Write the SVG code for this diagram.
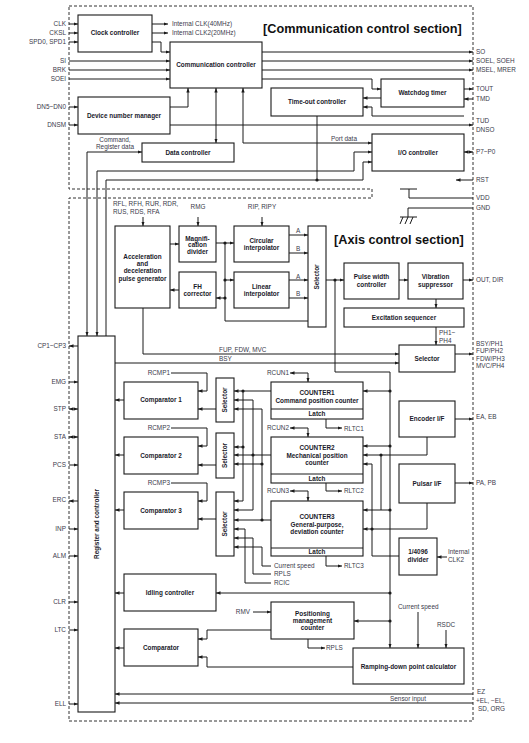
<svg xmlns="http://www.w3.org/2000/svg" width="529" height="743" viewBox="0 0 529 743">
<style>
.ln{fill:none;stroke:#1a1a1a;stroke-width:1}
.ar{marker-end:url(#ah)}
.ab{marker-start:url(#ah);marker-end:url(#ah)}
.as{marker-start:url(#ah)}
.bx{fill:#fff;stroke:#1a1a1a;stroke-width:1.1}
.t{font-family:"Liberation Sans",Arial,sans-serif;font-size:6.4px;fill:#3a3a4a}
.b{font-weight:bold;fill:#1a1a2a;text-anchor:middle}
.e{text-anchor:end}
.m{text-anchor:middle}
.ttl{font-family:"Liberation Sans",Arial,sans-serif;font-size:12.7px;font-weight:bold;fill:#111}
.dot{fill:#1a1a1a}
.dash{fill:none;stroke:#333;stroke-width:1;stroke-dasharray:3,2}
</style>
<defs>
<marker id="ah" viewBox="0 0 8 6" refX="8" refY="3" markerWidth="4.5" markerHeight="3.4" markerUnits="userSpaceOnUse" orient="auto-start-reverse"><path d="M0,0 L8,3 L0,6 Z" fill="#1a1a1a"/></marker>
</defs>
<rect width="529" height="743" fill="#fff"/>
<g id="boundary">
<path class="dash" d="M69,6 H473 V721 H69 V198 H372 V189 H69 Z"/>
</g>
<g id="titles">
<text class="ttl" x="263" y="33">[Communication control section]</text>
<text class="ttl" x="334" y="244">[Axis control section]</text>
</g>
<g id="power">
<path class="ln" d="M400,189 H417 M409,189 V198 H473"/>
<path class="ln" d="M473,208 H408 V217 M400,217 H417 M403,217 L400,224 M408,217 L405,224 M413,217 L410,224"/>
</g>
<g id="connectors">
<path class="ln ar" d="M69,24 H78"/>
<path class="ln ar" d="M69,33 H78"/>
<path class="ln ar" d="M69,42 H78"/>
<path class="ln ar" d="M152,24 H168"/>
<path class="ln ar" d="M152,33 H168"/>
<path class="ln ar" d="M152,42 H161 V52 H170"/>
<path class="ln ar" d="M69,61 H170"/>
<path class="ln ar" d="M69,70 H170"/>
<path class="ln ar" d="M69,79 H170"/>
<path class="ln ar" d="M262,52 H473"/>
<path class="ln ar" d="M262,61 H473"/>
<path class="ln ar" d="M262,70 H473"/>
<path class="ln ar" d="M262,79 H372 V89 H381"/>
<path class="ln ar" d="M464,89 H473"/>
<path class="ln ar" d="M473,99 H464"/>
<path class="ln ar" d="M381,98 H363"/>
<path class="ln ar" d="M464,116 H372 V107 H363"/>
<path class="ln ar" d="M69,107 H78"/>
<path class="ln ar" d="M69,125 H78"/>
<path class="ln ar" d="M170,107 H188 V88"/>
<path class="ln ar" d="M170,125 H473"/>
<path class="ln ab" d="M216,88 V143"/>
<path class="ln ab" d="M243,88 V143 H372"/>
<path class="ln ab" d="M87,336 V152 H142"/>
<path class="ln ab" d="M97,336 V171 H354 V152 H372"/>
<path class="ln ar" d="M106,336 V180 H363 V162 H372"/>
<path class="ln" d="M317,116 V180"/>
<circle class="dot" cx="317" cy="180" r="1.6"/>
<path class="ln ab" d="M464,152 H473"/>
<path class="ln ar" d="M473,180 H456"/>
<path class="ln ar" d="M143,217 V226"/>
<path class="ln ar" d="M198,217 V226"/>
<path class="ln ar" d="M262,217 V226"/>
<path class="ln ar" d="M170,244 H179"/>
<path class="ln ar" d="M179,290 H170"/>
<path class="ln ar" d="M216,243 H234"/>
<path class="ln" d="M225,243 V321 H308"/>
<path class="ln ar" d="M225,280 H234"/>
<path class="ln ar" d="M225,298 H216"/>
<circle class="dot" cx="225" cy="243" r="1.6"/>
<circle class="dot" cx="225" cy="280" r="1.6"/>
<circle class="dot" cx="225" cy="298" r="1.6"/>
<path class="ln ar" d="M289,235 H308"/>
<path class="ln ar" d="M289,253 H308"/>
<path class="ln ar" d="M289,280 H308"/>
<path class="ln ar" d="M289,298 H308"/>
<path class="ln ar" d="M326,280 H344"/>
<circle class="dot" cx="335" cy="280" r="1.6"/>
<path class="ln ar" d="M335,280 V372 H390 V648"/>
<path class="ln ar" d="M399,280 H408"/>
<path class="ln ar" d="M463,280 H473"/>
<path class="ln ar" d="M436,299 V308"/>
<path class="ln ar" d="M436,327 V345"/>
<path class="ln ar" d="M143,308 V354 H399"/>
<path class="ln ar" d="M115,363 H399"/>
<path class="ln ar" d="M455,354 H473"/>
<path class="ln ar" d="M78,346 H69"/>
<path class="ln ar" d="M69,382 H78"/>
<path class="ln ab" d="M69,409 H78"/>
<path class="ln ab" d="M69,437 H78"/>
<path class="ln ar" d="M69,465 H78"/>
<path class="ln ar" d="M78,501 H69"/>
<path class="ln ar" d="M69,529 H78"/>
<path class="ln ar" d="M69,556 H78"/>
<path class="ln ar" d="M69,602 H78"/>
<path class="ln ar" d="M69,630 H78"/>
<path class="ln ar" d="M69,704 H78"/>
<path class="ln ar" d="M124,400 H115"/>
<path class="ln ar" d="M124,455 H115"/>
<path class="ln ar" d="M124,510 H115"/>
<path class="ln ar" d="M171,373 H207 V391 H198"/>
<path class="ln ar" d="M171,428 H207 V446 H198"/>
<path class="ln ar" d="M171,483 H207 V501 H198"/>
<path class="ln ar" d="M216,409 H198"/>
<path class="ln ar" d="M216,465 H198"/>
<path class="ln ar" d="M216,519 H198"/>
<path class="ln ab" d="M290,373 H308 V382"/>
<path class="ln ab" d="M290,428 H308 V437"/>
<path class="ln ab" d="M290,491 H308 V501"/>
<path class="ln ar" d="M271,391 H234"/>
<path class="ln ar" d="M243,391 V501 H234"/>
<path class="ln ar" d="M243,447 H234"/>
<circle class="dot" cx="243" cy="391" r="1.6"/>
<circle class="dot" cx="243" cy="447" r="1.6"/>
<path class="ln ar" d="M271,455 H234"/>
<path class="ln ab" d="M234,400 H253 V510 H234"/>
<circle class="dot" cx="253" cy="455" r="1.6"/>
<path class="ln ar" d="M271,520 H234"/>
<path class="ln as" d="M234,409 H262 V520"/>
<path class="ln ar" d="M262,464 H234"/>
<circle class="dot" cx="262" cy="464" r="1.6"/>
<circle class="dot" cx="262" cy="520" r="1.6"/>
<path class="ln ar" d="M271,583 H245 V529 H234"/>
<path class="ln ar" d="M271,574 H253 V538 H234"/>
<path class="ln ar" d="M271,566 H262 V547 H234"/>
<path class="ln ar" d="M326,419 V428 H342"/>
<path class="ln ar" d="M326,483 V491 H342"/>
<path class="ln ar" d="M326,556 V566 H342"/>
<path class="ln ar" d="M455,419 H473"/>
<path class="ln ar" d="M427,437 V455 H363"/>
<path class="ln" d="M381,455 V510"/>
<circle class="dot" cx="381" cy="455" r="1.6"/>
<path class="ln ar" d="M390,391 H363"/>
<path class="ln ar" d="M390,446 H363"/>
<path class="ln ar" d="M390,510 H363"/>
<circle class="dot" cx="390" cy="391" r="1.6"/>
<circle class="dot" cx="390" cy="446" r="1.6"/>
<circle class="dot" cx="390" cy="510" r="1.6"/>
<path class="ln ar" d="M399,556 H372 V464 H363"/>
<path class="ln ar" d="M455,483 H473"/>
<path class="ln ar" d="M427,503 V529 H363"/>
<circle class="dot" cx="372" cy="529" r="1.6"/>
<path class="ln ar" d="M447,557 H437"/>
<path class="ln ar" d="M390,593 H216"/>
<circle class="dot" cx="390" cy="593" r="1.6"/>
<path class="ln ar" d="M124,593 H115"/>
<path class="ln ar" d="M390,621 H354"/>
<circle class="dot" cx="390" cy="621" r="1.6"/>
<path class="ln ar" d="M253,612 H271"/>
<path class="ln ar" d="M308,639 V648 H325"/>
<path class="ln ar" d="M271,630 H207 V639 H198"/>
<path class="ln ar" d="M124,648 H115"/>
<path class="ln ar" d="M353,667 H207 V657 H198"/>
<path class="ln ar" d="M418,612 V648"/>
<path class="ln ar" d="M446,630 V648"/>
<path class="ln ar" d="M473,694 H115"/>
<path class="ln ar" d="M473,703 H115"/>
</g>
<g id="clock-controller"><rect class="bx" x="78" y="15" width="74" height="37"/><text class="t b" x="115" y="35.2">Clock controller</text></g>
<g id="communication-controller"><rect class="bx" x="170" y="42" width="92" height="46"/><text class="t b" x="216" y="67.2">Communication controller</text></g>
<g id="device-number-manager"><rect class="bx" x="78" y="97" width="92" height="37"/><text class="t b" x="124" y="118.2">Device number manager</text></g>
<g id="data-controller"><rect class="bx" x="142" y="143" width="92" height="19"/><text class="t b" x="188" y="154.7">Data controller</text></g>
<g id="time-out-controller"><rect class="bx" x="271" y="88" width="92" height="28"/><text class="t b" x="317" y="104.2">Time-out controller</text></g>
<g id="watchdog-timer"><rect class="bx" x="381" y="79" width="83" height="28"/><text class="t b" x="422.5" y="95.2">Watchdog timer</text></g>
<g id="io-controller"><rect class="bx" x="372" y="134" width="92" height="37"/><text class="t b" x="418" y="154.7">I/O controller</text></g>
<g id="accel-decel-generator"><rect class="bx" x="115" y="226" width="55" height="82"/>
<text class="t b" x="142.5" y="259.2">Acceleration</text><text class="t b" x="142.5" y="266.2">and</text><text class="t b" x="142.5" y="273.2">deceleration</text><text class="t b" x="142.5" y="281.2">pulse generator</text></g>
<g id="magnification-divider"><rect class="bx" x="179" y="226" width="37" height="36"/>
<text class="t b" x="197.5" y="240.5">Magnifi-</text><text class="t b" x="197.5" y="247">cation</text><text class="t b" x="197.5" y="253.5">divider</text></g>
<g id="fh-corrector"><rect class="bx" x="179" y="272" width="37" height="36"/>
<text class="t b" x="197.5" y="289.2">FH</text><text class="t b" x="197.5" y="296.2">corrector</text></g>
<g id="circular-interpolator"><rect class="bx" x="234" y="226" width="55" height="36"/>
<text class="t b" x="261.5" y="243.2">Circular</text><text class="t b" x="261.5" y="250.2">interpolator</text></g>
<g id="linear-interpolator"><rect class="bx" x="234" y="272" width="55" height="36"/>
<text class="t b" x="261.5" y="289.2">Linear</text><text class="t b" x="261.5" y="296.2">interpolator</text></g>
<g id="axis-selector"><rect class="bx" x="308" y="226" width="18" height="101"/>
<text class="t b" transform="translate(317,277) rotate(-90)" x="0" y="2.2">Selector</text></g>
<g id="pulse-width-controller"><rect class="bx" x="344" y="263" width="55" height="36"/>
<text class="t b" x="371.5" y="279.2">Pulse width</text><text class="t b" x="371.5" y="287.2">controller</text></g>
<g id="vibration-suppressor"><rect class="bx" x="408" y="263" width="55" height="36"/>
<text class="t b" x="435.5" y="279.2">Vibration</text><text class="t b" x="435.5" y="287.2">suppressor</text></g>
<g id="excitation-sequencer"><rect class="bx" x="344" y="308" width="120" height="19"/><text class="t b" x="404" y="320.2">Excitation sequencer</text></g>
<g id="output-selector"><rect class="bx" x="399" y="345" width="56" height="27"/><text class="t b" x="427" y="360.7">Selector</text></g>
<g id="register-and-controller"><rect class="bx" x="78" y="336" width="37" height="376"/>
<text class="t b" transform="translate(97,524) rotate(-90)" x="0" y="2.2">Register and controller</text></g>
<g id="comparator-1"><rect class="bx" x="124" y="382" width="74" height="37"/><text class="t b" x="161" y="402.2">Comparator 1</text></g>
<g id="comparator-2"><rect class="bx" x="124" y="437" width="74" height="37"/><text class="t b" x="161" y="457.7">Comparator 2</text></g>
<g id="comparator-3"><rect class="bx" x="124" y="492" width="74" height="37"/><text class="t b" x="161" y="512.7">Comparator 3</text></g>
<g id="selector-1"><rect class="bx" x="216" y="378" width="18" height="44"/><text class="t b" transform="translate(225,400) rotate(-90)" x="0" y="2.2">Selector</text></g>
<g id="selector-2"><rect class="bx" x="216" y="433" width="18" height="45"/><text class="t b" transform="translate(225,455.5) rotate(-90)" x="0" y="2.2">Selector</text></g>
<g id="selector-3"><rect class="bx" x="216" y="492" width="18" height="64"/><text class="t b" transform="translate(225,524) rotate(-90)" x="0" y="2.2">Selector</text></g>
<g id="counter-1"><rect class="bx" x="271" y="382" width="92" height="37"/><path class="ln" d="M271,409 H363"/>
<text class="t b" x="317" y="395.2">COUNTER1</text><text class="t b" x="317" y="403.2">Command position counter</text><text class="t b" x="317" y="416">Latch</text></g>
<g id="counter-2"><rect class="bx" x="271" y="437" width="92" height="46"/><path class="ln" d="M271,474 H363"/>
<text class="t b" x="317" y="450.2">COUNTER2</text><text class="t b" x="317" y="458.2">Mechanical position</text><text class="t b" x="317" y="465.2">counter</text><text class="t b" x="317" y="480.7">Latch</text></g>
<g id="counter-3"><rect class="bx" x="271" y="501" width="92" height="55"/><path class="ln" d="M271,548 H363"/>
<text class="t b" x="317" y="519.2">COUNTER3</text><text class="t b" x="317" y="527.2">General-purpose,</text><text class="t b" x="317" y="534.2">deviation counter</text><text class="t b" x="317" y="554.2">Latch</text></g>
<g id="encoder-if"><rect class="bx" x="399" y="401" width="56" height="36"/><text class="t b" x="427" y="421.2">Encoder I/F</text></g>
<g id="pulsar-if"><rect class="bx" x="399" y="464" width="56" height="39"/><text class="t b" x="427" y="485.7">Pulsar I/F</text></g>
<g id="divider-4096"><rect class="bx" x="399" y="538" width="38" height="37"/>
<text class="t b" x="418" y="554.2">1/4096</text><text class="t b" x="418" y="562.2">divider</text></g>
<g id="idling-controller"><rect class="bx" x="124" y="574" width="92" height="37"/><text class="t b" x="170" y="595.2">Idling controller</text></g>
<g id="positioning-management-counter"><rect class="bx" x="271" y="602" width="83" height="37"/>
<text class="t b" x="312.5" y="616.2">Positioning</text><text class="t b" x="312.5" y="623.2">management</text><text class="t b" x="312.5" y="630.2">counter</text></g>
<g id="comparator"><rect class="bx" x="124" y="629" width="74" height="37"/><text class="t b" x="161" y="650.2">Comparator</text></g>
<g id="ramping-down-calculator"><rect class="bx" x="353" y="648" width="111" height="36"/><text class="t b" x="408.5" y="669.2">Ramping-down point calculator</text></g>
<g id="labels">
<text class="t e" x="66" y="26.2">CLK</text>
<text class="t e" x="66" y="35.2">CKSL</text>
<text class="t e" x="66" y="44.2">SPD0, SPD1</text>
<text class="t e" x="66" y="63.2">SI</text>
<text class="t e" x="66" y="72.2">BRK</text>
<text class="t e" x="66" y="81.2">SOEI</text>
<text class="t e" x="66" y="109.2">DN5~DN0</text>
<text class="t e" x="66" y="127.2">DNSM</text>
<text class="t" x="172" y="26.2">Internal CLK(40MHz)</text>
<text class="t" x="172" y="35.2">Internal CLK2(20MHz)</text>
<text class="t m" x="115" y="141.5">Command,</text>
<text class="t m" x="115" y="148.5">Register data</text>
<text class="t" x="331" y="140.5">Port data</text>
<text class="t" x="476" y="54.2">SO</text>
<text class="t" x="476" y="63.2">SOEL, SOEH</text>
<text class="t" x="476" y="72.2">MSEL, MRER</text>
<text class="t" x="476" y="91.2">TOUT</text>
<text class="t" x="476" y="101.2">TMD</text>
<text class="t" x="476" y="123">TUD</text>
<text class="t" x="476" y="131.5">DNSO</text>
<text class="t" x="476" y="154.2">P7~P0</text>
<text class="t" x="476" y="182.2">RST</text>
<text class="t" x="476" y="200.2">VDD</text>
<text class="t" x="476" y="210.2">GND</text>
<text class="t" x="113" y="206.2">RFL, RFH, RUR, RDR,</text>
<text class="t" x="113" y="214">RUS, RDS, RFA</text>
<text class="t m" x="198" y="209.2">RMG</text>
<text class="t m" x="262" y="209.2">RIP, RIPY</text>
<text class="t" x="296" y="233">A</text>
<text class="t" x="296" y="250.5">B</text>
<text class="t" x="296" y="278.5">A</text>
<text class="t" x="296" y="296">B</text>
<text class="t" x="439" y="335.2">PH1~</text>
<text class="t" x="439" y="343.2">PH4</text>
<text class="t" x="476" y="282.2">OUT, DIR</text>
<text class="t" x="476" y="346.2">BSY/PH1</text>
<text class="t" x="476" y="353.4">FUP/PH2</text>
<text class="t" x="476" y="360.6">FDW/PH3</text>
<text class="t" x="476" y="367.8">MVC/PH4</text>
<text class="t" x="219" y="352.2">FUP, FDW, MVC</text>
<text class="t" x="219" y="361.2">BSY</text>
<text class="t e" x="66" y="348.2">CP1~CP3</text>
<text class="t e" x="66" y="384.2">EMG</text>
<text class="t e" x="66" y="411.2">STP</text>
<text class="t e" x="66" y="439.2">STA</text>
<text class="t e" x="66" y="467.2">PCS</text>
<text class="t e" x="66" y="502.2">ERC</text>
<text class="t e" x="66" y="531.2">INP</text>
<text class="t e" x="66" y="558.2">ALM</text>
<text class="t e" x="66" y="604.2">CLR</text>
<text class="t e" x="66" y="632.2">LTC</text>
<text class="t e" x="66" y="706.2">ELL</text>
<text class="t e" x="170" y="375.2">RCMP1</text>
<text class="t e" x="170" y="430.2">RCMP2</text>
<text class="t e" x="170" y="485.2">RCMP3</text>
<text class="t e" x="289" y="375.2">RCUN1</text>
<text class="t e" x="289" y="430.2">RCUN2</text>
<text class="t e" x="289" y="493.2">RCUN3</text>
<text class="t" x="344" y="430.6">RLTC1</text>
<text class="t" x="344" y="493.4">RLTC2</text>
<text class="t" x="344" y="568.2">RLTC3</text>
<text class="t" x="476" y="419.2">EA, EB</text>
<text class="t" x="476" y="485.2">PA, PB</text>
<text class="t" x="448" y="554.2">Internal</text>
<text class="t" x="448" y="562.2">CLK2</text>
<text class="t" x="274" y="568.2">Current speed</text>
<text class="t" x="274" y="576.4">RPLS</text>
<text class="t" x="274" y="585.2">RCIC</text>
<text class="t e" x="250" y="614.2">RMV</text>
<text class="t" x="326" y="650.2">RPLS</text>
<text class="t" x="398" y="609.2">Current speed</text>
<text class="t" x="437" y="627.2">RSDC</text>
<text class="t m" x="408" y="700.8">Sensor input</text>
<text class="t" x="477" y="694">EZ</text>
<text class="t" x="476" y="703.2">+EL, −EL,</text>
<text class="t" x="478" y="711.2">SD, ORG</text>
</g>
</svg>
